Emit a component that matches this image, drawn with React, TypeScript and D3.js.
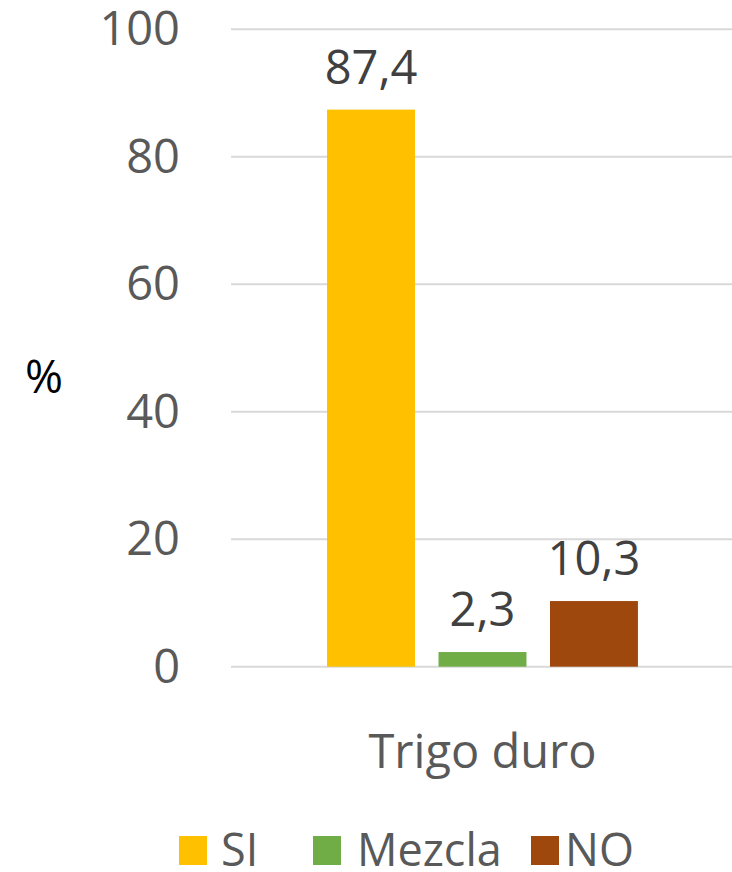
import React from "react";
import * as d3 from "d3";

const categories = ["Trigo duro"];
const seriesNames = ["SI", "Mezcla", "NO"];
const seriesValues = [87.4, 2.3, 10.3];
const seriesColors = ["#FFC000", "#70AD47", "#9E480E"];
const yTicks = [0, 20, 40, 60, 80, 100];

const W = 732;
const H = 872;
const FONT = "'Open Sans', 'Liberation Sans', sans-serif";

export default function App() {
  const plotLeft = 231;
  const plotRight = 734;
  const y = d3.scaleLinear().domain([0, 100]).range([666.7, 29.3]);
  const x0 = d3
    .scaleBand<string>()
    .domain(categories)
    .range([plotLeft, plotRight])
    .paddingInner(0)
    .paddingOuter(0.309);
  const x1 = d3
    .scaleBand<string>()
    .domain(seriesNames)
    .range([0, x0.bandwidth()])
    .paddingInner(0.211)
    .paddingOuter(0);
  const fmt = (v: number) => d3.format(".1f")(v).replace(".", ",");

  const legendSquareX = [179, 313, 531];
  const legendTextX = [221, 357, 565];

  return (
    <svg
      width={W}
      height={H}
      style={{ position: "absolute", left: 0, top: 0, background: "#fff" }}
      fontFamily={FONT}
    >
      {yTicks.map((t) => (
        <g key={t}>
          <line
            x1={plotLeft}
            x2={plotRight}
            y1={y(t)}
            y2={y(t)}
            stroke="#D9D9D9"
            strokeWidth={2}
          />
          <text
            x={180}
            y={y(t) + 16}
            textAnchor="end"
            fontSize={47}
            fill="#595959"
          >
            {t}
          </text>
        </g>
      ))}
      <text x={44} y={393} textAnchor="middle" fontSize={46} fill="#000">
        %
      </text>
      {categories.map((c) => (
        <g key={c} transform={`translate(${x0(c)},0)`}>
          {seriesNames.map((s, i) => {
            const v = seriesValues[i];
            const bx = x1(s)!;
            return (
              <g key={s}>
                <rect
                  x={bx}
                  y={y(v)}
                  width={x1.bandwidth()}
                  height={y(0) - y(v)}
                  fill={seriesColors[i]}
                />
                <text
                  x={bx + x1.bandwidth() / 2}
                  y={y(v) - 26}
                  textAnchor="middle"
                  fontSize={47}
                  fill="#404040"
                >
                  {fmt(v)}
                </text>
              </g>
            );
          })}
          <text
            x={x0.bandwidth() / 2}
            y={768}
            textAnchor="middle"
            fontSize={47}
            fill="#595959"
          >
            {c}
          </text>
        </g>
      ))}
      {seriesNames.map((s, i) => (
        <g key={s}>
          <rect
            x={legendSquareX[i]}
            y={836}
            width={28}
            height={29}
            fill={seriesColors[i]}
          />
          <text x={legendTextX[i]} y={866} fontSize={45} fill="#595959">
            {s}
          </text>
        </g>
      ))}
    </svg>
  );
}
